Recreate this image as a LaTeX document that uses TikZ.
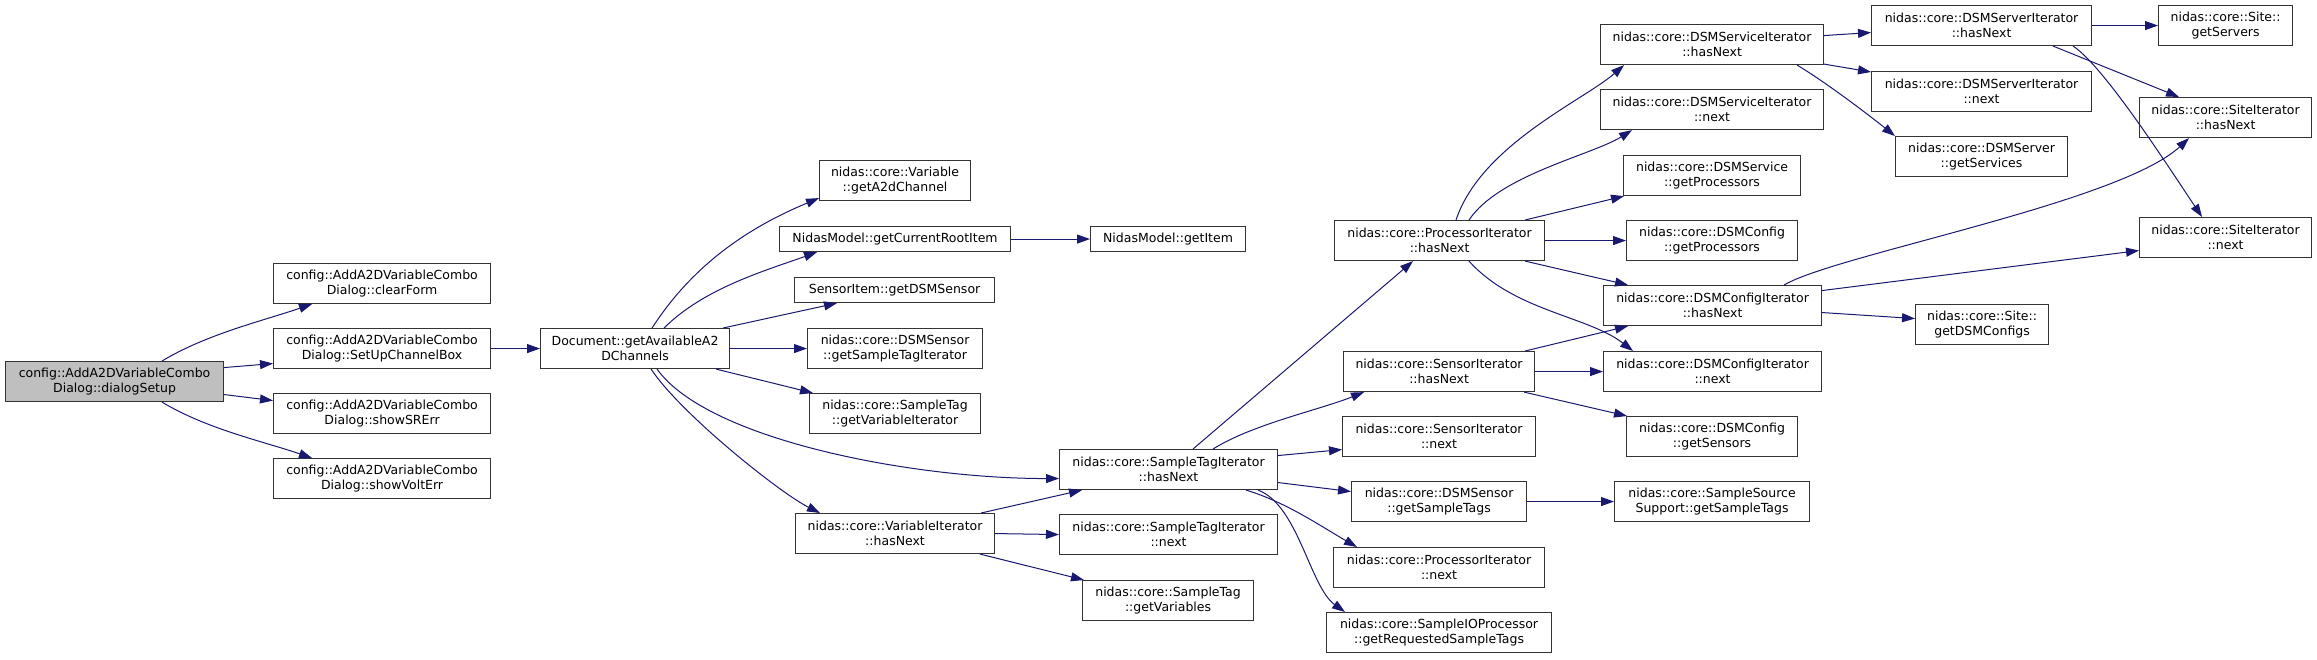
\documentclass[tikz,border=0pt]{standalone}
\usepackage{fontspec}
\setmainfont{DejaVu Sans}
\usetikzlibrary{positioning}
\usetikzlibrary{calc}
\usetikzlibrary{arrows.meta}
\definecolor{edgeblue}{RGB}{25,25,112}
\definecolor{callergray}{RGB}{191,191,191}

\begin{document}
\begin{tikzpicture}[x=1pt, y=-1pt,
    fn/.style={draw=black!80, line width=1.1pt, fill=white, align=center, inner sep=0pt,
        anchor=north west, minimum height=40pt, font=\fontsize{12.5}{15}\selectfont},
    fnone/.style={fn, minimum height=25pt},
    call/.style={draw=edgeblue, line width=1pt, -{Triangle[length=13pt, width=9pt]}}]
    \useasboundingbox (0,0) rectangle (2317,659);

    % caller
    \node[fn, fill=callergray, minimum width=218pt] (dialogsetup) at (5,361) {config::AddA2DVariableCombo\\Dialog::dialogSetup};

    % dialog members
    \node[fn, minimum width=217pt] (clearform) at (273,263) {config::AddA2DVariableCombo\\Dialog::clearForm};
    \node[fn, minimum width=217pt] (setupchannelbox) at (273,328) {config::AddA2DVariableCombo\\Dialog::SetUpChannelBox};
    \node[fn, minimum width=217pt] (showsrerr) at (273,393) {config::AddA2DVariableCombo\\Dialog::showSRErr};
    \node[fn, minimum width=217pt] (showvolterr) at (273,458) {config::AddA2DVariableCombo\\Dialog::showVoltErr};
    \node[fn, minimum width=189pt] (getavailable) at (540,328) {Document::getAvailableA2\\DChannels};

    % called from Document
    \node[fn, minimum width=151pt] (geta2dchannel) at (819,160) {nidas::core::Variable\\::getA2dChannel};
    \node[fnone, minimum width=231pt] (getcurrentroot) at (779,226) {NidasModel::getCurrentRootItem};
    \node[fnone, minimum width=200pt] (getdsmsensor) at (794,277) {SensorItem::getDSMSensor};
    \node[fn, minimum width=175pt] (getstagiter) at (807,328) {nidas::core::DSMSensor\\::getSampleTagIterator};
    \node[fn, minimum width=171pt] (getvariter) at (809,393) {nidas::core::SampleTag\\::getVariableIterator};
    \node[fn, minimum width=199pt] (variterhasnext) at (795,513) {nidas::core::VariableIterator\\::hasNext};

    % next column
    \node[fnone, minimum width=155pt] (getitem) at (1090,226) {NidasModel::getItem};
    \node[fn, minimum width=218pt] (stagiterhasnext) at (1059,449) {nidas::core::SampleTagIterator\\::hasNext};
    \node[fn, minimum width=218pt] (stagiternext) at (1059,514) {nidas::core::SampleTagIterator\\::next};
    \node[fn, minimum width=171pt] (getvariables) at (1082,580) {nidas::core::SampleTag\\::getVariables};

    % called from SampleTagIterator::hasNext
    \node[fn, minimum width=210pt] (prociterhasnext) at (1334,220) {nidas::core::ProcessorIterator\\::hasNext};
    \node[fn, minimum width=191pt] (sensiterhasnext) at (1343,351) {nidas::core::SensorIterator\\::hasNext};
    \node[fn, minimum width=193pt] (sensiternext) at (1342,416) {nidas::core::SensorIterator\\::next};
    \node[fn, minimum width=175pt] (getsampletags) at (1351,481) {nidas::core::DSMSensor\\::getSampleTags};
    \node[fn, minimum width=211pt] (prociternext) at (1333,547) {nidas::core::ProcessorIterator\\::next};
    \node[fn, minimum width=225pt] (getreqtags) at (1326,612) {nidas::core::SampleIOProcessor\\::getRequestedSampleTags};

    % service / config column
    \node[fn, minimum width=223pt] (svciterhasnext) at (1600,24) {nidas::core::DSMServiceIterator\\::hasNext};
    \node[fn, minimum width=223pt] (svciternext) at (1600,89) {nidas::core::DSMServiceIterator\\::next};
    \node[fn, minimum width=177pt] (svcgetproc) at (1623,155) {nidas::core::DSMService\\::getProcessors};
    \node[fn, minimum width=171pt] (cfggetproc) at (1626,220) {nidas::core::DSMConfig\\::getProcessors};
    \node[fn, minimum width=218pt] (cfgiterhasnext) at (1603,285) {nidas::core::DSMConfigIterator\\::hasNext};
    \node[fn, minimum width=218pt] (cfgiternext) at (1603,351) {nidas::core::DSMConfigIterator\\::next};
    \node[fn, minimum width=171pt] (cfggetsensors) at (1626,416) {nidas::core::DSMConfig\\::getSensors};
    \node[fn, minimum width=195pt] (srcgettags) at (1614,481) {nidas::core::SampleSource\\Support::getSampleTags};

    % server column
    \node[fn, minimum width=220pt] (serveriterhasnext) at (1871,5) {nidas::core::DSMServerIterator\\::hasNext};
    \node[fn, minimum width=220pt] (serveriternext) at (1871,71) {nidas::core::DSMServerIterator\\::next};
    \node[fn, minimum width=172pt] (servergetsvc) at (1895,136) {nidas::core::DSMServer\\::getServices};
    \node[fn, minimum width=133pt] (sitegetcfgs) at (1915,304) {nidas::core::Site::\\getDSMConfigs};

    % site column
    \node[fn, minimum width=134pt] (sitegetservers) at (2158,5) {nidas::core::Site::\\getServers};
    \node[fn, minimum width=172pt] (siteiterhasnext) at (2139,97) {nidas::core::SiteIterator\\::hasNext};
    \node[fn, minimum width=172pt] (siteiternext) at (2139,217) {nidas::core::SiteIterator\\::next};

    % calls from the caller
    \draw[call] ([xshift=157pt]dialogsetup.north west) .. controls +(45,-27) and +(-50,17) .. ([xshift=39pt]clearform.south west);
    \draw[call] ([yshift=14pt]dialogsetup.east) -- ([yshift=-15pt]setupchannelbox.west);
    \draw[call] ([yshift=-13pt]dialogsetup.east) -- ([yshift=13pt]showsrerr.west);
    \draw[call] ([xshift=157pt]dialogsetup.south west) .. controls +(45,27) and +(-50,-17) .. ([xshift=39pt]showvolterr.north west);
    \draw[call] (setupchannelbox.east) -- (getavailable.west);

    % calls from Document::getAvailableA2DChannels
    \draw[call] ([xshift=17pt]getavailable.north) .. controls +(45,-70) and +(-60,25) .. ([yshift=3pt]geta2dchannel.south west);
    \draw[call] ([xshift=29pt]getavailable.north) .. controls +(40,-40) and +(-50,18) .. ([xshift=38pt]getcurrentroot.south west);
    \draw[call] ([xshift=-7pt]getavailable.north east) -- ([xshift=43pt]getdsmsensor.south west);
    \draw[call] (getavailable.east) -- (getstagiter.west);
    \draw[call] ([xshift=-14pt]getavailable.south east) -- ([xshift=4pt]getvariter.north west);
    \draw[call] ([xshift=22pt]getavailable.south) .. controls +(50,70) and +(-150,0) .. ([yshift=-9pt]stagiterhasnext.west);
    \draw[call] ([xshift=16pt]getavailable.south) .. controls +(30,45) and +(-40,-20) .. ([xshift=25pt]variterhasnext.north west);
    \draw[call] (getcurrentroot.east) -- (getitem.west);

    % VariableIterator::hasNext
    \draw[call] ([xshift=-14pt]variterhasnext.north east) -- ([xshift=23pt]stagiterhasnext.south west);
    \draw[call] (variterhasnext.east) -- (stagiternext.west);
    \draw[call] ([xshift=-15pt]variterhasnext.south east) -- ([xshift=2pt]getvariables.north west);

    % SampleTagIterator::hasNext
    \draw[call] ([xshift=134pt]stagiterhasnext.north west) -- ([xshift=79pt]prociterhasnext.south west);
    \draw[call] ([xshift=154pt]stagiterhasnext.north west) .. controls +(40,-25) and +(-45,18) .. ([xshift=21pt]sensiterhasnext.south west);
    \draw[call] ([yshift=14pt]stagiterhasnext.east) -- ([yshift=-13pt]sensiternext.west);
    \draw[call] ([yshift=-13pt]stagiterhasnext.east) -- ([yshift=10pt]getsampletags.west);
    \draw[call] ([xshift=-32pt]stagiterhasnext.south east) .. controls +(40,12) and +(-35,-20) .. ([xshift=24pt]prociternext.north west);
    \draw[call] ([xshift=-20pt]stagiterhasnext.south east) .. controls +(40,15) and +(-35,-25) .. ([xshift=19pt]getreqtags.north west);

    % SensorIterator::hasNext, DSMSensor::getSampleTags
    \draw[call] ([xshift=-10pt]sensiterhasnext.north east) -- ([xshift=25pt]cfgiterhasnext.south west);
    \draw[call] (sensiterhasnext.east) -- (cfgiternext.west);
    \draw[call] ([xshift=-11pt]sensiterhasnext.south east) -- ([xshift=1pt]cfggetsensors.north west);
    \draw[call] (getsampletags.east) -- (srcgettags.west);

    % ProcessorIterator::hasNext
    \draw[call] ([xshift=122pt]prociterhasnext.north west) .. controls +(25,-75) and +(-40,35) .. ([xshift=24pt]svciterhasnext.south west);
    \draw[call] ([xshift=135pt]prociterhasnext.north west) .. controls +(30,-45) and +(-40,25) .. ([xshift=32pt]svciternext.south west);
    \draw[call] ([xshift=-20pt]prociterhasnext.north east) -- ([xshift=1pt]svcgetproc.south west);
    \draw[call] (prociterhasnext.east) -- (cfggetproc.west);
    \draw[call] ([xshift=-20pt]prociterhasnext.south east) -- ([xshift=25pt]cfgiterhasnext.north west);
    \draw[call] ([xshift=135pt]prociterhasnext.south west) .. controls +(45,50) and +(-45,-35) .. ([xshift=30pt]cfgiternext.north west);

    % DSMServiceIterator::hasNext
    \draw[call] ([yshift=9pt]svciterhasnext.east) -- ([yshift=-7pt]serveriterhasnext.west);
    \draw[call] ([yshift=1pt]svciterhasnext.south east) -- ([yshift=-1pt]serveriternext.north west);
    \draw[call] ([xshift=-27pt]svciterhasnext.south east) .. controls +(30,18) and +(-25,-20) .. (servergetsvc.north west);

    % DSMServerIterator::hasNext
    \draw[call] (serveriterhasnext.east) -- (sitegetservers.west);
    \draw[call] ([xshift=-39pt]serveriterhasnext.south east) -- ([xshift=40pt]siteiterhasnext.north west);
    \draw[call] ([xshift=-19pt]serveriterhasnext.south east) .. controls +(30,20) and +(-40,-60) .. ([xshift=63pt]siteiternext.north west);

    % DSMConfigIterator::hasNext
    \draw[call] ([xshift=-38pt]cfgiterhasnext.north east) .. controls +(50,-30) and +(-70,65) .. ([xshift=50pt]siteiterhasnext.south west);
    \draw[call] ([yshift=15pt]cfgiterhasnext.east) -- ([yshift=-13pt]siteiternext.west);
    \draw[call] ([yshift=-7pt]cfgiterhasnext.east) -- ([yshift=6pt]sitegetcfgs.west);
\end{tikzpicture}
\end{document}
